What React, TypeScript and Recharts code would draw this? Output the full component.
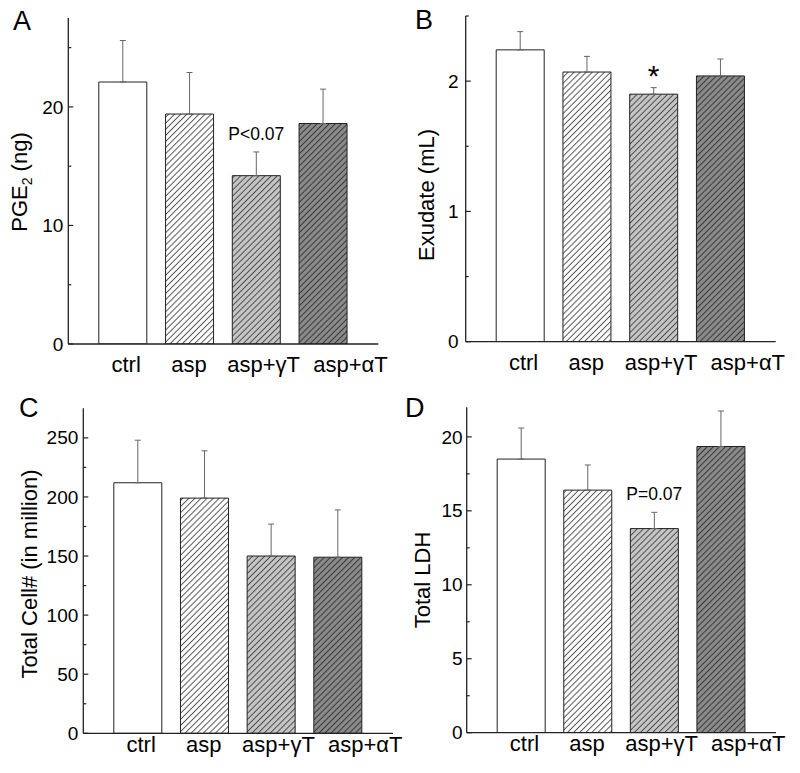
import React from 'react';
import { BarChart, Bar, XAxis, YAxis, ErrorBar, Cell, LabelList } from 'recharts';

// ---------- data ----------
const groups = ['ctrl', 'asp', 'asp+γT', 'asp+αT'];

const pgeMeans = [22.1, 19.4, 14.2, 18.6];
const pgeErrors = [3.5, 3.5, 2.0, 2.9];
const pgeNotes = ['', '', 'P<0.07', ''];
const pgeTicks = [0, 5, 10, 15, 20, 25];
const pgeMajor = [0, 10, 20];
const pgeMax = 27.5;

const exuMeans = [2.24, 2.07, 1.9, 2.04];
const exuErrors = [0.14, 0.12, 0.05, 0.13];
const exuNotes = ['', '', '*', ''];
const exuTicks = [0, 0.5, 1, 1.5, 2, 2.5];
const exuMajor = [0, 1, 2];
const exuMax = 2.5;

const cellMeans = [212, 199, 150, 149];
const cellErrors = [36, 40, 27, 40];
const cellNotes = ['', '', '', ''];
const cellTicks = [0, 25, 50, 75, 100, 125, 150, 175, 200, 225, 250];
const cellMajor = [0, 50, 100, 150, 200, 250];
const cellMax = 275;

const ldhMeans = [18.5, 16.4, 13.8, 19.35];
const ldhErrors = [2.1, 1.7, 1.1, 2.4];
const ldhNotes = ['', '', 'P=0.07', ''];
const ldhTicks = [0, 2.5, 5, 7.5, 10, 12.5, 15, 17.5, 20];
const ldhMajor = [0, 5, 10, 15, 20];
const ldhMax = 22;

// ---------- styles ----------
const FONT = '"Liberation Sans", Arial, Helvetica, sans-serif';
const fills = ['#ffffff', 'url(#hatch-white)', 'url(#hatch-light)', 'url(#hatch-dark)'];
const xLabelShift = [3, -1, 7, 27];
const AXIS = '#222';

const makeYTick = (majors: number[], gap: number) => (props: any) => {
  const { x, y, payload } = props;
  const v = payload.value;
  const isMajor = majors.includes(v);
  return (
    <g>
      <line x1={x} y1={y} x2={x + (isMajor ? 5 : 3)} y2={y} stroke={AXIS} strokeWidth={1.2} />
      {isMajor && (
        <text x={x - gap} y={y} dy="0.35em" textAnchor="end" fontSize={19} fontFamily={FONT} fill="#000">
          {v}
        </text>
      )}
    </g>
  );
};

const xTick = (props: any) => {
  const { x, y, payload } = props;
  const i = groups.indexOf(payload.value);
  const shift = i >= 0 ? xLabelShift[i] : 0;
  return (
    <text x={x + shift} y={y} dy="0.71em" textAnchor="middle" fontSize={22} fontFamily={FONT} fill="#000">
      {payload.value}
    </text>
  );
};

const makeNote = (notes: string[], means: number[], errors: number[], gap: number, size: number) => (props: any) => {
  const value = props.value;
  if (!value) return null;
  const i = notes.indexOf(value);
  if (i < 0) return null;
  const vb = props.viewBox || props;
  const h = Math.abs(vb.height);
  const pxPerUnit = h / means[i];
  const top = Math.min(vb.y, vb.y + vb.height) - errors[i] * pxPerUnit;
  return (
    <text x={vb.x + vb.width / 2} y={top - gap} textAnchor="middle" fontSize={size} fontFamily={FONT} fill="#000">
      {value}
    </text>
  );
};

type PanelProps = {
  left: number;
  top: number;
  width: number;
  height: number;
  margin: { top: number; right: number; bottom: number; left: number };
  means: number[];
  errors: number[];
  notes: string[];
  ticks: number[];
  majors: number[];
  max: number;
  labelGap: number;
  xTickMargin: number;
  title: React.ReactElement;
  letter: string;
  letterX: number;
  letterY: number;
  noteGap: number;
  noteSize: number;
};

function Panel(p: PanelProps) {
  const data = groups.map((g, i) => ({
    group: g,
    mean: p.means[i],
    err: [0, p.errors[i]],
    note: p.notes[i],
  }));
  return (
    <div style={{ position: 'absolute', left: p.left, top: p.top, width: p.width, height: p.height }}>
      <BarChart width={p.width} height={p.height} data={data} margin={p.margin}>
        <XAxis
          xAxisId="mid"
          type="number"
          domain={[0, 1]}
          ticks={[0.5]}
          height={1}
          mirror
          tick={false}
          tickSize={5}
          axisLine={false}
          tickLine={{ stroke: AXIS, strokeWidth: 1.2 }}
          allowDataOverflow
        />
        <XAxis
          xAxisId="cat"
          dataKey="group"
          type="category"
          height={30}
          tickLine={false}
          axisLine={{ stroke: AXIS, strokeWidth: 1.3 }}
          tickSize={0}
          tickMargin={p.xTickMargin}
          interval={0}
          padding={{ left: 21.5, right: 21.5 }}
          tick={xTick}
        />
        <YAxis
          type="number"
          domain={[0, p.max]}
          ticks={p.ticks}
          allowDataOverflow
          interval={0}
          width={50}
          tickSize={0}
          tickMargin={0}
          tickLine={false}
          axisLine={{ stroke: AXIS, strokeWidth: 1.3 }}
          tick={makeYTick(p.majors, p.labelGap)}
          label={{ content: () => p.title }}
        />
        <Bar xAxisId="cat" dataKey="mean" barSize={48} stroke="#222" strokeWidth={1} isAnimationActive={false}>
          {data.map((d, i) => (
            <Cell key={d.group} fill={fills[i]} />
          ))}
          <ErrorBar dataKey="err" width={3} stroke="#666" strokeWidth={1} direction="y" isAnimationActive={false} />
          <LabelList dataKey="note" content={makeNote(p.notes, p.means, p.errors, p.noteGap, p.noteSize)} />
        </Bar>
      </BarChart>
      <svg
        width={p.width}
        height={p.height}
        style={{ position: 'absolute', left: 0, top: 0, pointerEvents: 'none' }}
      >
        <text x={p.letterX} y={p.letterY} fontSize={27} fontFamily={FONT} fill="#000">
          {p.letter}
        </text>
      </svg>
    </div>
  );
}

const yTitle = (cx: number, cy: number, content: React.ReactNode) => (
  <text
    x={cx}
    y={cy}
    transform={`rotate(-90 ${cx} ${cy})`}
    textAnchor="middle"
    dy="0.35em"
    fontSize={22}
    fontFamily={FONT}
    fill="#000"
  >
    {content}
  </text>
);

export default function App() {
  return (
    <div style={{ position: 'absolute', left: 0, top: 0, width: 800, height: 773, background: '#fff' }}>
      <svg width={0} height={0} style={{ position: 'absolute' }}>
        <defs>
          <pattern id="hatch-white" patternUnits="userSpaceOnUse" width={4.3} height={4.3} patternTransform="rotate(45)">
            <rect width={4.3} height={4.3} fill="#ffffff" />
            <line x1={2.15} y1={0} x2={2.15} y2={4.3} stroke="#555" strokeWidth={1} />
          </pattern>
          <pattern id="hatch-light" patternUnits="userSpaceOnUse" width={4.3} height={4.3} patternTransform="rotate(45)">
            <rect width={4.3} height={4.3} fill="#c6c6c6" />
            <line x1={2.15} y1={0} x2={2.15} y2={4.3} stroke="#4a4a4a" strokeWidth={1} />
          </pattern>
          <pattern id="hatch-dark" patternUnits="userSpaceOnUse" width={4.3} height={4.3} patternTransform="rotate(45)">
            <rect width={4.3} height={4.3} fill="#8c8c8c" />
            <line x1={2.15} y1={0} x2={2.15} y2={4.3} stroke="#3a3a3a" strokeWidth={1.1} />
          </pattern>
        </defs>
      </svg>
      <Panel
        left={0}
        top={0}
        width={400}
        height={390}
        margin={{ top: 18, right: 21.7, bottom: 16, left: 18.3 }}
        means={pgeMeans}
        errors={pgeErrors}
        notes={pgeNotes}
        ticks={pgeTicks}
        majors={pgeMajor}
        max={pgeMax}
        labelGap={5}
        xTickMargin={12.4}
        title={yTitle(19, 182, (
          <>
            PGE<tspan fontSize={14} dy={5}>2</tspan>
            <tspan dy={-5}> (ng)</tspan>
          </>
        ))}
        letter="A"
        letterX={13}
        letterY={30}
        noteGap={12}
        noteSize={17.5}
      />
      <Panel
        left={400}
        top={0}
        width={400}
        height={390}
        margin={{ top: 16, right: 24.3, bottom: 18.3, left: 15.7 }}
        means={exuMeans}
        errors={exuErrors}
        notes={exuNotes}
        ticks={exuTicks}
        majors={exuMajor}
        max={exuMax}
        labelGap={7}
        xTickMargin={12.7}
        title={yTitle(26, 195, 'Exudate (mL)')}
        letter="B"
        letterX={15}
        letterY={28.5}
        noteGap={2}
        noteSize={30}
      />
      <Panel
        left={0}
        top={380}
        width={412}
        height={393}
        margin={{ top: 28.3, right: 19, bottom: 9.7, left: 33.3 }}
        means={cellMeans}
        errors={cellErrors}
        notes={cellNotes}
        ticks={cellTicks}
        majors={cellMajor}
        max={cellMax}
        labelGap={5}
        xTickMargin={2.8}
        title={yTitle(29, 194, 'Total Cell# (in million)')}
        letter="C"
        letterX={19}
        letterY={36.5}
        noteGap={12}
        noteSize={17.5}
      />
      <Panel
        left={400}
        top={380}
        width={400}
        height={393}
        margin={{ top: 27.3, right: 24, bottom: 10.3, left: 16.7 }}
        means={ldhMeans}
        errors={ldhErrors}
        notes={ldhNotes}
        ticks={ldhTicks}
        majors={ldhMajor}
        max={ldhMax}
        labelGap={4}
        xTickMargin={2.4}
        title={yTitle(22, 200, 'Total LDH')}
        letter="D"
        letterX={5}
        letterY={37.3}
        noteGap={12.4}
        noteSize={17.5}
      />
    </div>
  );
}
